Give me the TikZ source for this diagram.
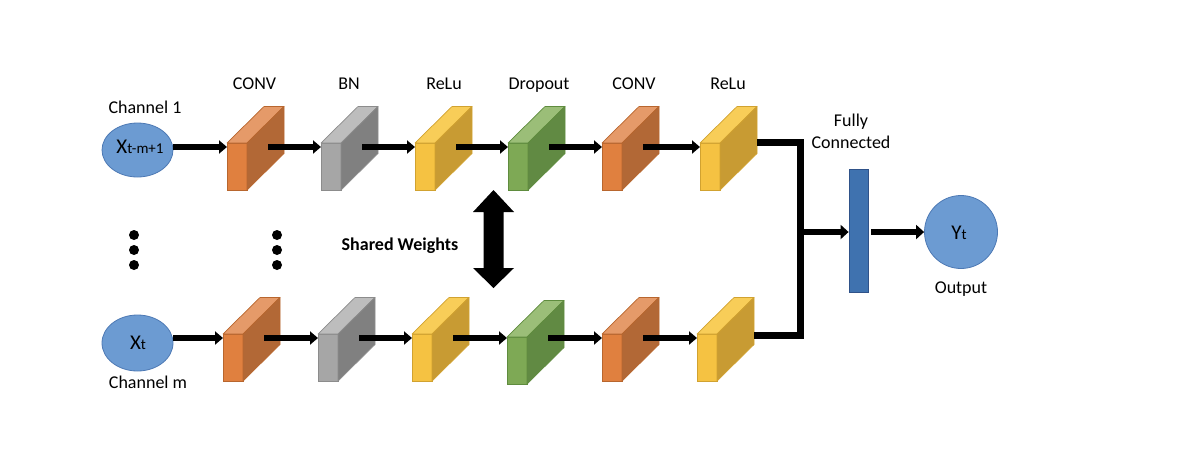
\documentclass[tikz,border=0pt]{standalone}
\usepackage{fontspec}
\setmainfont{Carlito}
\usetikzlibrary{arrows.meta,calc,shapes.geometric}
\definecolor{orF}{HTML}{E0803F}
\definecolor{orS}{HTML}{B26836}
\definecolor{orT}{HTML}{E59A69}
\definecolor{orL}{HTML}{B8662E}
\definecolor{grF}{HTML}{A6A6A6}
\definecolor{grS}{HTML}{808080}
\definecolor{grT}{HTML}{BDBDBD}
\definecolor{grL}{HTML}{8C8C8C}
\definecolor{yeF}{HTML}{F5C242}
\definecolor{yeS}{HTML}{C89B33}
\definecolor{yeT}{HTML}{F8CD58}
\definecolor{yeL}{HTML}{D1A230}
\definecolor{gnF}{HTML}{7EA955}
\definecolor{gnS}{HTML}{618A43}
\definecolor{gnT}{HTML}{9BBE78}
\definecolor{gnL}{HTML}{5F8C3E}
\definecolor{blL}{HTML}{6C9BD2}
\definecolor{blE}{HTML}{4D79B4}
\definecolor{blD}{HTML}{3F72AF}
\definecolor{blDL}{HTML}{2F5289}
\newcommand{\cubeblk}[6]{%
  \node[draw=#6, line width=0.7pt, fill=#3, minimum width=20pt, minimum height=47pt,
        inner sep=0pt, outer sep=0pt, anchor=north west] (#1) at #2 {};
  \filldraw[fill=#5, draw=#6, line width=0.7pt, line join=round]
    (#1.north west) -- ++(37,-36.5) -- ++(20,0) -- (#1.north east) -- cycle;
  \filldraw[fill=#4, draw=#6, line width=0.7pt, line join=round]
    (#1.north east) -- ++(37,-36.5) -- ++(0,47) -- (#1.south east) -- cycle;
  \coordinate (#1i) at ($(#1.north west)+(0,4)$);
  \coordinate (#1o) at ($(#1.north east)+(21,4)$);
}
\begin{document}
\begin{tikzpicture}[x=1pt,y=-1pt,
  lbl/.style={font=\fontsize{18}{21}\selectfont, anchor=base, inner sep=0pt},
  arr/.style={line width=5.5pt, -{Triangle[length=8pt,width=13pt]}},
  bigarr/.style={line width=6.5pt, -{Triangle[length=8pt,width=14pt]}},
  merge/.style={line width=7pt, line join=miter}
]
\useasboundingbox (0,0) rectangle (1180,456);

% inputs
\node[ellipse, draw=blE, line width=0.8pt, fill=blL, minimum width=71pt, minimum height=54pt, inner sep=0pt] (in1) at (137.5,150) {};
\node[ellipse, draw=blE, line width=0.8pt, fill=blL, minimum width=71pt, minimum height=56pt, inner sep=0pt] (in2) at (137.5,343) {};
\node[anchor=base, inner sep=0pt] (x1) at (140,153) {\fontsize{21}{24}\selectfont X\fontsize{15}{18}\selectfont t-m+1};
\node[anchor=base, inner sep=0pt] (x2) at (138,349) {\fontsize{21}{24}\selectfont X\fontsize{15}{18}\selectfont t};
\node[lbl] (ch1) at (145,113) {Channel 1};
\node[lbl] (chm) at (148,388) {Channel m};

% top row
\cubeblk{a1}{(227,143)}{orF}{orS}{orT}{orL}
\cubeblk{a2}{(321,143)}{grF}{grS}{grT}{grL}
\cubeblk{a3}{(415,143)}{yeF}{yeS}{yeT}{yeL}
\cubeblk{a4}{(508,143)}{gnF}{gnS}{gnT}{gnL}
\cubeblk{a5}{(602,143)}{orF}{orS}{orT}{orL}
\cubeblk{a6}{(700,143)}{yeF}{yeS}{yeT}{yeL}

% bottom row
\cubeblk{b1}{(223,334)}{orF}{orS}{orT}{orL}
\cubeblk{b2}{(318,334)}{grF}{grS}{grT}{grL}
\cubeblk{b3}{(412,334)}{yeF}{yeS}{yeT}{yeL}
\cubeblk{b4}{(507,337)}{gnF}{gnS}{gnT}{gnL}
\cubeblk{b5}{(602,334)}{orF}{orS}{orT}{orL}
\cubeblk{b6}{(697,334)}{yeF}{yeS}{yeT}{yeL}

% titles
\node[lbl] (t1) at (254.5,89) {CONV};
\node[lbl] (t2) at (349,89) {BN};
\node[lbl] (t3) at (444,89) {ReLu};
\node[lbl] (t4) at (539,89) {Dropout};
\node[lbl] (t5) at (634,89) {CONV};
\node[lbl] (t6) at (728,89) {ReLu};

% arrows top
\draw[arr] (in1.east |- a1i) -- (a1i);
\draw[arr] (a1o) -- (a2i);
\draw[arr] (a2o) -- (a3i);
\draw[arr] (a3o) -- (a4i);
\draw[arr] (a4o) -- (a5i);
\draw[arr] (a5o) -- (a6i);
% arrows bottom
\draw[arr] (in2.east |- b1i) -- (b1i);
\draw[arr] (b1o) -- (b2i);
\draw[arr] (b2o) -- (b3i);
\draw[arr] (b3o) -- (b4i |- b3o);
\draw[arr] (b4o |- b3o) -- (b5i);
\draw[arr] (b5o) -- (b6i);

% dots
\foreach \yy in {235,250,265}{
  \fill (134,\yy) circle (5pt);
  \fill (277,\yy) circle (5pt);
}

% shared weights
\node[lbl, font=\fontsize{18}{21}\selectfont\bfseries] (sw) at (400,250) {Shared Weights};
\coordinate (dc) at (493.5,239);
\fill ($(dc)+(0,-49)$) -- ($(dc)+(20.5,-27)$) -- ($(dc)+(10,-27)$) -- ($(dc)+(10,29)$)
  -- ($(dc)+(20.5,29)$) -- ($(dc)+(0,49)$) -- ($(dc)+(-20.5,29)$) -- ($(dc)+(-10,29)$)
  -- ($(dc)+(-10,-27)$) -- ($(dc)+(-20.5,-27)$) -- cycle;

% merge
\coordinate (r1m) at ($(a6.north east)+(37,-1)$);
\coordinate (r2m) at ($(b6.north east)+(37,1)$);
\coordinate (jt) at (800,142);
\coordinate (jb) at (800,335);
\coordinate (jm) at (800,232);
\draw[merge] (r1m) -- (jt) -- (jb) -- (r2m);

% fully connected
\node[draw=blDL, line width=0.8pt, fill=blD, minimum width=19pt, minimum height=123pt, inner sep=0pt] (fc) at (858.5,231) {};
\node[lbl] (fc1) at (851,126) {Fully};
\node[lbl] (fc2) at (851,148) {Connected};
\draw[bigarr] (jm) -- (fc.west |- jm);

% output
\node[circle, draw=blE, line width=0.8pt, fill=blL, minimum size=73pt, inner sep=0pt] (out) at (961,232) {};
\node[anchor=base, inner sep=0pt] (y1) at (959,239) {\fontsize{21}{24}\selectfont Y\fontsize{15}{18}\selectfont t};
\node[lbl] (outl) at (961,293) {Output};
\draw[bigarr, shorten <=3pt] (fc.east |- jm) -- (out.west |- jm);
\end{tikzpicture}
\end{document}
